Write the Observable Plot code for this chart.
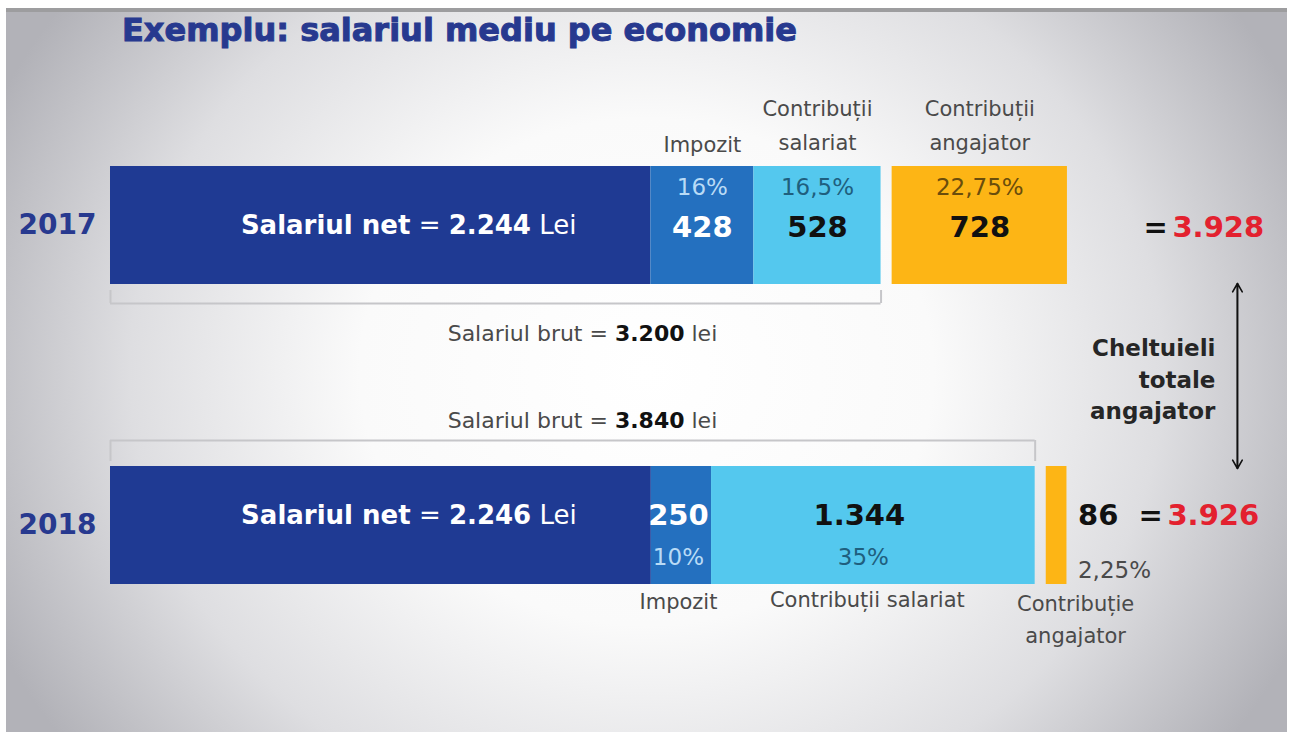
<!DOCTYPE html>
<html>
<head>
<meta charset="utf-8">
<script src="https://cdn.jsdelivr.net/npm/d3@7"></script>
<script src="https://cdn.jsdelivr.net/npm/@observablehq/plot@0.6"></script>
<style>
  html, body { margin: 0; padding: 0; background: #ffffff; }
  body { width: 1295px; height: 750px; position: relative; overflow: hidden; font-family: "DejaVu Sans", sans-serif; }
  #panel {
    position: absolute; left: 6px; top: 8px; width: 1281px; height: 720px;
    border-top: 4px solid #9d9d9f;
    background: radial-gradient(ellipse 56% 88% at 50% 50%, #ffffff 0%, #fafafa 40%, #dedee1 72%, #b2b2b8 100%);
  }
  #title {
    position: absolute; left: 122px; top: 0; height: 60px; width: 1100px;
    font-family: "DejaVu Sans", sans-serif; font-weight: 700; font-size: 32px; line-height: 1;
    color: #27398f; -webkit-text-stroke: 1px #27398f; padding-top: 14px; box-sizing: border-box;
  }
  #chart { position: absolute; left: 0; top: 60px; }
</style>
</head>
<body>
<div id="panel"></div>
<div id="title">Exemplu: salariul mediu pe economie</div>
<div id="chart"></div>
<script>
// ---- data (lei) ----
const years = ["2017", "2018"];
const salariulNet = [2244, 2246];
const impozit = [428, 250];
const contributiiSalariat = [528, 1344];
const contributiiAngajator = [728, 86];
const pctImpozit = ["16%", "10%"];
const pctSalariat = ["16,5%", "35%"];
const pctAngajator = ["22,75%", "2,25%"];
const salariulBrut = [3200, 3840];
const cheltuieliTotale = [3928, 3926];
const segmentKeys = ["net", "impozit", "salariat", "angajator"];
const segmentColors = ["#1f3a93", "#2470bf", "#54c8ee", "#fdb515"];

// ---- layout constants ----
const GAP = 46;            // lei gap between gross bar and employer bar
const K = 0.2408;          // px per lei
const ARROW_X = 4680;      // lei position of the vertical arrow
const BRUT_LABEL_X = 1960; // lei position of the gross-salary captions

const fmt = d3.formatLocale({decimal: ",", thousands: ".", grouping: [3], currency: ["", ""]}).format(",d");

const rows = years.map((year, i) => ({
  year,
  net: salariulNet[i],
  imp: impozit[i],
  sal: contributiiSalariat[i],
  ang: contributiiAngajator[i],
  pImp: pctImpozit[i],
  pSal: pctSalariat[i],
  pAng: pctAngajator[i],
  brut: salariulBrut[i],
  total: cheltuieliTotale[i]
}));

const segs = rows.flatMap(r => [
  {year: r.year, key: "net", x1: 0, x2: r.net},
  {year: r.year, key: "impozit", x1: r.net, x2: r.net + r.imp},
  {year: r.year, key: "salariat", x1: r.net + r.imp, x2: r.net + r.imp + r.sal},
  {year: r.year, key: "angajator", x1: r.brut + GAP, x2: r.brut + GAP + r.ang}
]);

const impMid = r => r.net + r.imp / 2;
const salMid = r => r.net + r.imp + r.sal / 2;
const angMid = r => r.brut + GAP + r.ang / 2;
const angEnd = r => r.brut + GAP + r.ang;
const endMax = d3.max(rows, angEnd);

const F = "'DejaVu Sans', sans-serif";
const r17 = [rows[0]], r18 = [rows[1]];
const GRAY = "#4a4a4a";
const NUM = 29, PCT = 23, LBL = 21;

const plot = Plot.plot({
  width: 1295,
  height: 690,
  marginLeft: 110, marginRight: 0, marginTop: 0, marginBottom: 0,
  style: {background: "transparent", fontFamily: F},
  x: {domain: [0, 5000], range: [110, 110 + 5000 * K], axis: null},
  y: {type: "band", domain: years, range: [15, 615], paddingInner: 0.6067, paddingOuter: 0.30335, align: 0.5, round: false, axis: null},
  color: {domain: segmentKeys, range: segmentColors},
  marks: [
    Plot.axisY({anchor: "left", tickSize: 0, tickPadding: 14, fontSize: 28, fontWeight: 700, color: "#27398f", label: null}),
    Plot.barX(segs, {x1: "x1", x2: "x2", y: "year", fill: "key"}),

    // brackets for gross salary
    Plot.ruleY(r17, {x1: 0, x2: "brut", y: "year", dy: 78, stroke: "#c6c6c9", strokeWidth: 2}),
    Plot.tickX(r17, {x: 0, y: "year", dy: 19, insetTop: 105, stroke: "#c6c6c9", strokeWidth: 2}),
    Plot.tickX(r17, {x: "brut", y: "year", dy: 19, insetTop: 105, stroke: "#c6c6c9", strokeWidth: 2}),
    Plot.ruleY(r18, {x1: 0, x2: "brut", y: "year", dy: -85, stroke: "#c6c6c9", strokeWidth: 2}),
    Plot.tickX(r18, {x: 0, y: "year", dy: -26, insetBottom: 97, stroke: "#c6c6c9", strokeWidth: 2}),
    Plot.tickX(r18, {x: "brut", y: "year", dy: -26, insetBottom: 97, stroke: "#c6c6c9", strokeWidth: 2}),

    // gross salary captions
    Plot.text(r17, {x: () => BRUT_LABEL_X, y: "year", dy: 108, text: r => `Salariul brut = **${fmt(r.brut)}** lei`, fontSize: 22, fill: GRAY, className: "rich-dark"}),
    Plot.text(r18, {x: () => BRUT_LABEL_X, y: "year", dy: -105, text: r => `Salariul brut = **${fmt(r.brut)}** lei`, fontSize: 22, fill: GRAY, className: "rich-dark"}),

    // net salary labels
    Plot.text(r17, {x: r => r.net / 2, y: "year", dx: 28, dy: 0, text: r => `**Salariul net** = **${fmt(r.net)}** Lei`, fontSize: 26, fill: "white", className: "rich-white"}),
    Plot.text(r18, {x: r => r.net / 2, y: "year", dx: 28, dy: -10, text: r => `**Salariul net** = **${fmt(r.net)}** Lei`, fontSize: 26, fill: "white", className: "rich-white"}),

    // 2017 segment values
    Plot.text(r17, {x: impMid, y: "year", dy: -38, text: "pImp", fontSize: PCT, fill: "#b9dbf6"}),
    Plot.text(r17, {x: impMid, y: "year", dy: 2, text: r => fmt(r.imp), fontSize: NUM, fontWeight: 700, fill: "white"}),
    Plot.text(r17, {x: salMid, y: "year", dy: -38, text: "pSal", fontSize: PCT, fill: "#1f5f7e"}),
    Plot.text(r17, {x: salMid, y: "year", dy: 2, text: r => fmt(r.sal), fontSize: NUM, fontWeight: 700, fill: "#111"}),
    Plot.text(r17, {x: angMid, y: "year", dy: -38, text: "pAng", fontSize: PCT, fill: "#6a4d0c"}),
    Plot.text(r17, {x: angMid, y: "year", dy: 2, text: r => fmt(r.ang), fontSize: NUM, fontWeight: 700, fill: "#111"}),

    // 2018 segment values
    Plot.text(r18, {x: impMid, y: "year", dx: -3, dy: -10, text: r => fmt(r.imp), fontSize: NUM, fontWeight: 700, fill: "white"}),
    Plot.text(r18, {x: impMid, y: "year", dx: -3, dy: 32, text: "pImp", fontSize: PCT, fill: "#b9dbf6"}),
    Plot.text(r18, {x: salMid, y: "year", dx: -14, dy: -10, text: r => fmt(r.sal), fontSize: NUM, fontWeight: 700, fill: "#111"}),
    Plot.text(r18, {x: salMid, y: "year", dx: -10, dy: 32, text: "pSal", fontSize: PCT, fill: "#1f5f7e"}),
    Plot.text(r18, {x: angEnd, y: "year", dx: 11, dy: -10, textAnchor: "start", text: r => fmt(r.ang), fontSize: NUM, fontWeight: 700, fill: "#111"}),
    Plot.text(r18, {x: angEnd, y: "year", dx: 11, dy: 45, textAnchor: "start", text: "pAng", fontSize: PCT, fill: GRAY}),

    // category labels, 2017 (above)
    Plot.text(r17, {x: impMid, y: "year", dy: -80, text: () => "Impozit", fontSize: LBL, fill: GRAY}),
    Plot.text(r17, {x: salMid, y: "year", dy: -103, text: () => "Contribuții\nsalariat", fontSize: LBL, lineHeight: 1.6, fill: GRAY}),
    Plot.text(r17, {x: angMid, y: "year", dy: -103, text: () => "Contribuții\nangajator", fontSize: LBL, lineHeight: 1.6, fill: GRAY}),

    // category labels, 2018 (below)
    Plot.text(r18, {x: impMid, y: "year", dx: -3, dy: 77, text: () => "Impozit", fontSize: LBL, fill: GRAY}),
    Plot.text(r18, {x: salMid, y: "year", dy: 75, dx: -6, text: () => "Contribuții salariat", fontSize: LBL, fill: GRAY}),
    Plot.text(r18, {x: angMid, y: "year", dx: 19, dy: 91, text: () => "Contribuție\nangajator", fontSize: LBL, lineHeight: 1.55, fill: GRAY}),

    // totals
    Plot.text(r17, {x: () => endMax, y: "year", dx: 76, dy: 2, textAnchor: "start", text: () => "=", fontSize: NUM, fontWeight: 700, fill: "#111"}),
    Plot.text(r17, {x: () => endMax, y: "year", dx: 105, dy: 2, textAnchor: "start", text: r => fmt(r.total), fontSize: NUM, fontWeight: 700, fill: "#e3212f"}),
    Plot.text(r18, {x: () => endMax, y: "year", dx: 71, dy: -10, textAnchor: "start", text: () => "=", fontSize: NUM, fontWeight: 700, fill: "#111"}),
    Plot.text(r18, {x: () => endMax, y: "year", dx: 100, dy: -10, textAnchor: "start", text: r => fmt(r.total), fontSize: NUM, fontWeight: 700, fill: "#e3212f"}),

    // employer total-cost arrow
    Plot.arrow([0], {x1: () => ARROW_X, x2: () => ARROW_X, y1: () => "2017", y2: () => "2018", insetStart: 58, insetEnd: 57, headLength: 9, strokeWidth: 1.6, stroke: "#111"}),
    Plot.arrow([0], {x1: () => ARROW_X, x2: () => ARROW_X, y1: () => "2018", y2: () => "2017", insetStart: 57, insetEnd: 58, headLength: 9, strokeWidth: 1.6, stroke: "#111"}),
    Plot.text(r17, {x: () => ARROW_X, y: "year", dx: -22, dy: 152, textAnchor: "end", text: () => "Cheltuieli\ntotale\nangajator", fontSize: 23, fontWeight: 700, lineHeight: 1.36, fill: "#262626"})
  ]
});

// rich text: **bold** segments
function enrich(sel, boldFill, boldWeight, plainWeight) {
  d3.select(plot).selectAll(sel).each(function() {
    const s = this.textContent;
    const t = d3.select(this);
    t.text(null);
    s.split("**").forEach((part, i) => {
      if (!part) return;
      const sp = t.append("tspan").text(part).attr("font-weight", i % 2 ? boldWeight : plainWeight);
      if (i % 2 && boldFill) sp.attr("fill", boldFill);
    });
  });
}
enrich("g.rich-white text", null, 700, 400);
enrich("g.rich-dark text", "#111", 700, 400);

document.getElementById("chart").appendChild(plot);
</script>
</body>
</html>
